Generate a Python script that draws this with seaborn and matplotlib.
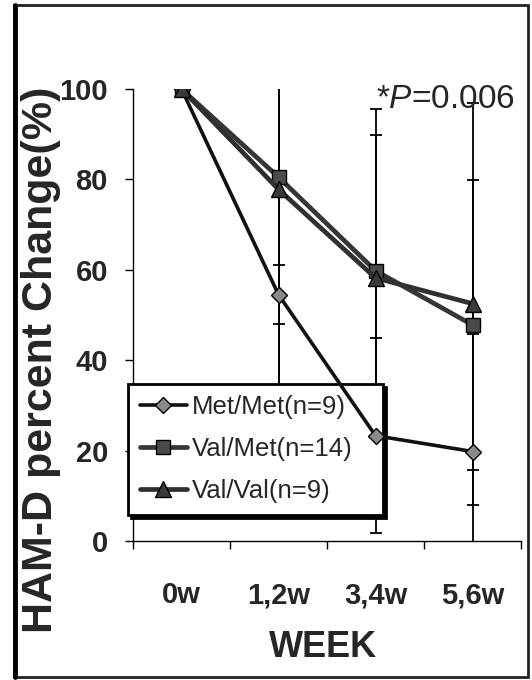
import numpy as np
import pandas as pd
import matplotlib
matplotlib.use("Agg")
import matplotlib.pyplot as plt
import seaborn as sns
from matplotlib.lines import Line2D
from matplotlib.patches import Rectangle

# Study visits and genotype groups
weeks = ["0w", "1,2w", "3,4w", "5,6w"]
groups = ["Met/Met(n=9)", "Val/Met(n=14)", "Val/Val(n=9)"]

# HAM-D score as percent of baseline (mean) and standard deviation
met_met = [100, 54.5, 23.3, 19.8]
val_met = [100, 80.5, 59.8, 47.8]
val_val = [100, 77.8, 58.2, 52.5]
met_met_sd = [0, 6.6, 21.6, 26.0]
val_met_sd = [0, 48.0, 30.0, 32.0]
val_val_sd = [0, 50.0, 37.3, 44.5]

y_ticks = [0, 20, 40, 60, 80, 100]
p_value = "0.006"

sns.set_style("white")
plt.rcParams["font.family"] = ["Liberation Sans", "DejaVu Sans"]
plt.rcParams["mathtext.fontset"] = "custom"
plt.rcParams["mathtext.rm"] = "Liberation Sans"
plt.rcParams["mathtext.it"] = "Liberation Sans:italic"

df = pd.DataFrame({
    "pos": np.tile(np.arange(len(weeks)), len(groups)),
    "value": met_met + val_met + val_val,
    "sd": met_met_sd + val_met_sd + val_val_sd,
    "group": np.repeat(groups, len(weeks)),
})

styles = {
    groups[0]: dict(color="#111111", lw=2.6, marker="D", ms=8, mfc="#8a8a8a"),
    groups[1]: dict(color="#363636", lw=3.4, marker="s", ms=10, mfc="#4a4a4a"),
    groups[2]: dict(color="#303030", lw=3.4, marker="^", ms=11, mfc="#3a3a3a"),
}

fig = plt.figure(figsize=(5.32, 6.8), dpi=100)
ax = fig.add_axes([133 / 532, 139 / 680, 388 / 532, 452 / 680])

# error bars sit behind the legend box; group lines sit on top of it
for g in groups:
    sub = df[df["group"] == g]
    ax.errorbar(sub["pos"], sub["value"], yerr=sub["sd"], fmt="none",
                ecolor="black", elinewidth=1.3, capsize=4, capthick=1.3,
                zorder=1)

for g in groups:
    sub = df[df["group"] == g]
    st = styles[g]
    sns.lineplot(data=sub, x="pos", y="value", ax=ax, label=g,
                 color=st["color"], linewidth=st["lw"], marker=st["marker"],
                 markersize=st["ms"], markerfacecolor=st["mfc"],
                 markeredgecolor="black", markeredgewidth=1.0, zorder=6)

ax.set_xlim(-0.5, len(weeks) - 0.5)
ax.set_ylim(0, 100)
ax.set_yticks(y_ticks)
ax.set_yticklabels([str(v) for v in y_ticks], fontsize=21, fontweight="bold")
ax.set_xticks(np.arange(len(weeks)))
ax.set_xticklabels(weeks, fontsize=21, fontweight="bold")
ax.set_xticks(np.arange(len(weeks) + 1) - 0.5, minor=True)
ax.tick_params(axis="x", which="major", length=0, pad=29)
ax.tick_params(axis="x", which="minor", length=6, width=1, direction="out",
               color="black", bottom=True)
ax.tick_params(axis="y", length=6, width=1, direction="out", color="black",
               left=True, pad=12)

for side in ["top", "right"]:
    ax.spines[side].set_visible(False)
for side in ["left", "bottom"]:
    ax.spines[side].set_color("black")
    ax.spines[side].set_linewidth(1.0)

ax.set_xlabel("WEEK", fontsize=26, fontweight="bold")
ax.xaxis.set_label_coords(0.49, -0.198)
ax.set_ylabel("HAM-D percent Change(%)", fontsize=31, fontweight="bold")
ax.yaxis.set_label_coords(-0.186, 0.40)

ax.text(0.626, 0.976, r"*$\mathit{P}$=" + p_value, transform=ax.transAxes,
        fontsize=24, ha="left", va="center")

leg = ax.legend(loc="lower left", bbox_to_anchor=(-0.013, 0.0575, 0.657, 0.3),
                mode="expand", fontsize=18.5, frameon=True, fancybox=False,
                framealpha=1, edgecolor="black", handlelength=1.85,
                handletextpad=0.18, labelspacing=0.7, borderpad=0.45,
                borderaxespad=0, shadow={"color": "black", "alpha": 1})
leg.get_frame().set_linewidth(2)
leg.set_zorder(5)

# outer frame of the figure panel
fig.patches.append(Rectangle((14 / 532, 3 / 680), 514 / 532, 672 / 680,
                             transform=fig.transFigure, fill=False,
                             edgecolor="#222222", linewidth=2))
fig.lines.append(Line2D([15 / 532, 15 / 532], [3 / 680, 675 / 680],
                        transform=fig.transFigure, color="black",
                        linewidth=3.5))

fig.savefig("out.png", dpi=100)
